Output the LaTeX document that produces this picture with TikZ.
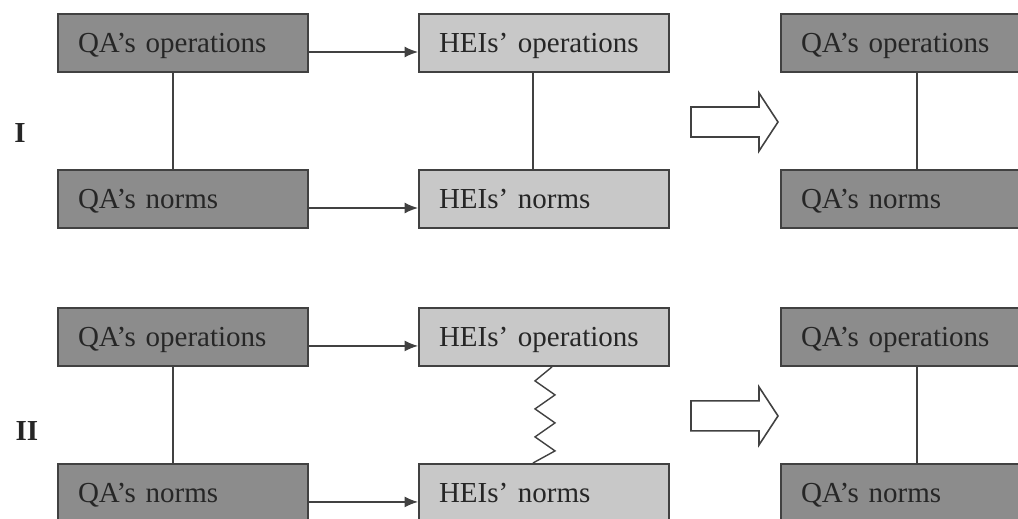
\documentclass[tikz,border=0pt]{standalone}
\usepackage{fontspec}
\setmainfont{Liberation Serif}
\usetikzlibrary{arrows.meta,positioning}
\definecolor{qagray}{RGB}{140,140,140}
\definecolor{heigray}{RGB}{200,200,200}
\definecolor{edgegray}{RGB}{65,65,65}
\tikzset{
    qabox/.style={
        draw=edgegray,
        line width=1.1pt,
        fill=qagray,
        minimum width=5cm,
        minimum height=1.16cm,
        text width=4.2cm,
        text height=15pt,
        text depth=3.7pt,
        inner xsep=0.4cm,
        inner ysep=0pt,
        align=left,
        text=black!85,
        font=\fontsize{16.5}{19}\selectfont
    },
    heibox/.style={qabox, fill=heigray},
    link/.style={draw=edgegray, line width=0.8pt},
    flow/.style={link, -{Latex[length=0.27cm,width=0.22cm]}},
    bigarrow/.style={draw=edgegray, line width=0.9pt, fill=white}
}

\begin{document}
\begin{tikzpicture}[x=0.02cm, y=-0.02cm]
  \useasboundingbox (0,0) rectangle (1018,518);
  \clip (0,0) rectangle (1018,518);

  % case I
  \node[qabox] (qaop) at (183,43) {QA’s operations};
  \node[qabox] (qanorm) at (183,199) {QA’s norms};
  \node[heibox] (heiop) at (544,43) {HEIs’ operations};
  \node[heibox] (heinorm) at (544,199) {HEIs’ norms};
  \node[qabox] (qaopR) at (906,43) {QA’s operations};
  \node[qabox] (qanormR) at (906,199) {QA’s norms};
  \node[font=\fontsize{16.5}{19}\selectfont\bfseries, text=black!85] (caseI) at (20,133) {I};

  \draw[link] ([xshift=-0.2cm]qaop.south) -- ([xshift=-0.2cm]qanorm.north);
  \draw[link] ([xshift=-0.22cm]heiop.south) -- ([xshift=-0.22cm]heinorm.north);
  \draw[link] ([xshift=0.22cm]qaopR.south) -- ([xshift=0.22cm]qanormR.north);
  \draw[flow] ([yshift=-0.18cm]qaop.east) -- ([yshift=-0.18cm]heiop.west);
  \draw[flow] ([yshift=-0.18cm]qanorm.east) -- ([yshift=-0.18cm]heinorm.west);
  \draw[bigarrow] (691,107) -- (759,107) -- (759,93) -- (778,122)
    -- (759,151) -- (759,137) -- (691,137) -- cycle;

  % case II
  \begin{scope}[yshift=-5.88cm]
    \node[qabox] (qaop2) at (183,43) {QA’s operations};
    \node[qabox] (qanorm2) at (183,199) {QA’s norms};
    \node[heibox] (heiop2) at (544,43) {HEIs’ operations};
    \node[heibox] (heinorm2) at (544,199) {HEIs’ norms};
    \node[qabox] (qaopR2) at (906,43) {QA’s operations};
    \node[qabox] (qanormR2) at (906,199) {QA’s norms};
    \node[font=\fontsize{16.5}{19}\selectfont\bfseries, text=black!85] (caseII) at (27,137) {II};

    \draw[link] ([xshift=-0.2cm]qaop2.south) -- ([xshift=-0.2cm]qanorm2.north);
    \draw[link] ([xshift=0.16cm]heiop2.south) -- ++(-17,14) -- ++(20,14)
      -- ++(-20,14) -- ++(20,14) -- ++(-20,14) -- ++(20,14)
      -- ([xshift=-0.22cm]heinorm2.north);
    \draw[link] ([xshift=0.22cm]qaopR2.south) -- ([xshift=0.22cm]qanormR2.north);
    \draw[flow] ([yshift=-0.18cm]qaop2.east) -- ([yshift=-0.18cm]heiop2.west);
    \draw[flow] ([yshift=-0.18cm]qanorm2.east) -- ([yshift=-0.18cm]heinorm2.west);
    \draw[bigarrow] (691,107) -- (759,107) -- (759,93) -- (778,122)
      -- (759,151) -- (759,137) -- (691,137) -- cycle;
  \end{scope}
\end{tikzpicture}
\end{document}
